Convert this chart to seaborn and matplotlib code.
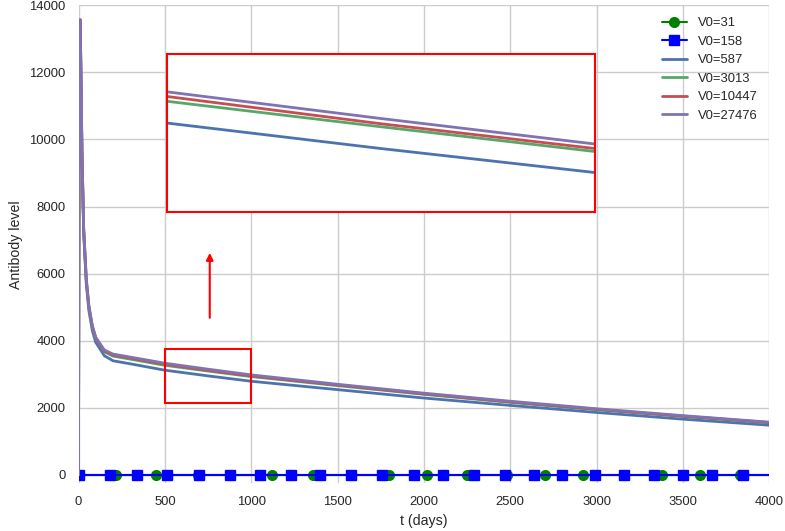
import matplotlib
matplotlib.use("Agg")
import matplotlib.pyplot as plt
import seaborn as sns
import pandas as pd

sns.set_theme(style="whitegrid", font_scale=0.85)
plt.rcParams['font.family'] = ['Liberation Sans', 'DejaVu Sans']

t = [0, 3, 6, 10, 15, 20, 30, 45, 60, 80, 100, 150, 200, 300, 500, 750, 1000, 1500, 2000, 2500, 3000, 3500, 4000]
v587 = [0, 9000, 13300, 13500, 11500, 9500, 7200, 5700, 4900, 4300, 3950, 3550, 3400, 3310, 3120, 2950, 2790, 2540, 2290, 2070, 1860, 1660, 1480]
v3013 = [0, 9100, 13400, 13550, 11600, 9600, 7300, 5800, 5000, 4400, 4060, 3670, 3540, 3450, 3265, 3095, 2930, 2660, 2400, 2160, 1940, 1740, 1550]
v10447 = [0, 9150, 13420, 13560, 11620, 9620, 7320, 5820, 5020, 4420, 4080, 3690, 3570, 3480, 3297, 3115, 2950, 2680, 2415, 2175, 1955, 1750, 1560]
v27476 = [0, 9200, 13450, 13580, 11650, 9650, 7350, 5850, 5050, 4450, 4100, 3720, 3600, 3510, 3328, 3150, 2980, 2700, 2435, 2195, 1970, 1765, 1570]
t31 = [0, 220, 450, 690, 880, 1120, 1360, 1800, 2020, 2250, 2480, 2700, 2920, 3380, 3600, 3830, 4000]
v31 = [0] * len(t31)
t158 = [0, 180, 340, 510, 700, 880, 1050, 1230, 1400, 1580, 1760, 1940, 2110, 2290, 2470, 2640, 2800, 2990, 3160, 3330, 3500, 3670, 3850, 4000]
v158 = [0] * len(t158)

curves = [("V0=587", v587), ("V0=3013", v3013), ("V0=10447", v10447), ("V0=27476", v27476)]
pal = sns.color_palette("deep")
cols = [pal[0], pal[2], pal[3], pal[4]]

fig, ax = plt.subplots(figsize=(7.85, 5.31), dpi=100)
ax.plot(t31, v31, color="green", marker="o", markersize=7, lw=1.5, label="V0=31",
        markevery=list(range(1, len(t31) - 1)))
ax.plot(t158, v158, color="blue", marker="s", markersize=7, lw=1.5, label="V0=158",
        markevery=list(range(len(t158) - 1)))
for (lab, v), c in zip(curves, cols):
    sns.lineplot(x=t, y=v, ax=ax, color=c, lw=2, label=lab)

ax.set_xlim(0, 4000)
ax.set_ylim(-250, 14000)
ax.set_yticks(range(0, 14001, 2000))
ax.set_xlabel("t (days)")
ax.set_ylabel("Antibody level")
ax.legend(loc="upper right", frameon=False)
for s in ax.spines.values():
    s.set_visible(False)

ax.add_patch(plt.Rectangle((500, 2150), 500, 1600, fill=False, ec="red", lw=1.5, zorder=5))
ax.annotate("", xy=(760, 6700), xytext=(760, 4600),
            arrowprops=dict(arrowstyle="-|>", color="red", lw=1.5))

ins = ax.inset_axes([510, 7850, 2480, 4700], transform=ax.transData)
for (lab, v), c in zip(curves, cols):
    ins.plot(t, v, color=c, lw=2)
ins.set_xlim(500, 1000)
ins.set_ylim(2530, 3580)
ins.set_xticks([]); ins.set_yticks([])
ins.grid(False)
ins.set_facecolor("white")
for s in ins.spines.values():
    s.set_color("red"); s.set_linewidth(1.5)

fig.subplots_adjust(left=0.10, right=0.98, top=0.99, bottom=0.09)
fig.savefig("out.png", dpi=100)
